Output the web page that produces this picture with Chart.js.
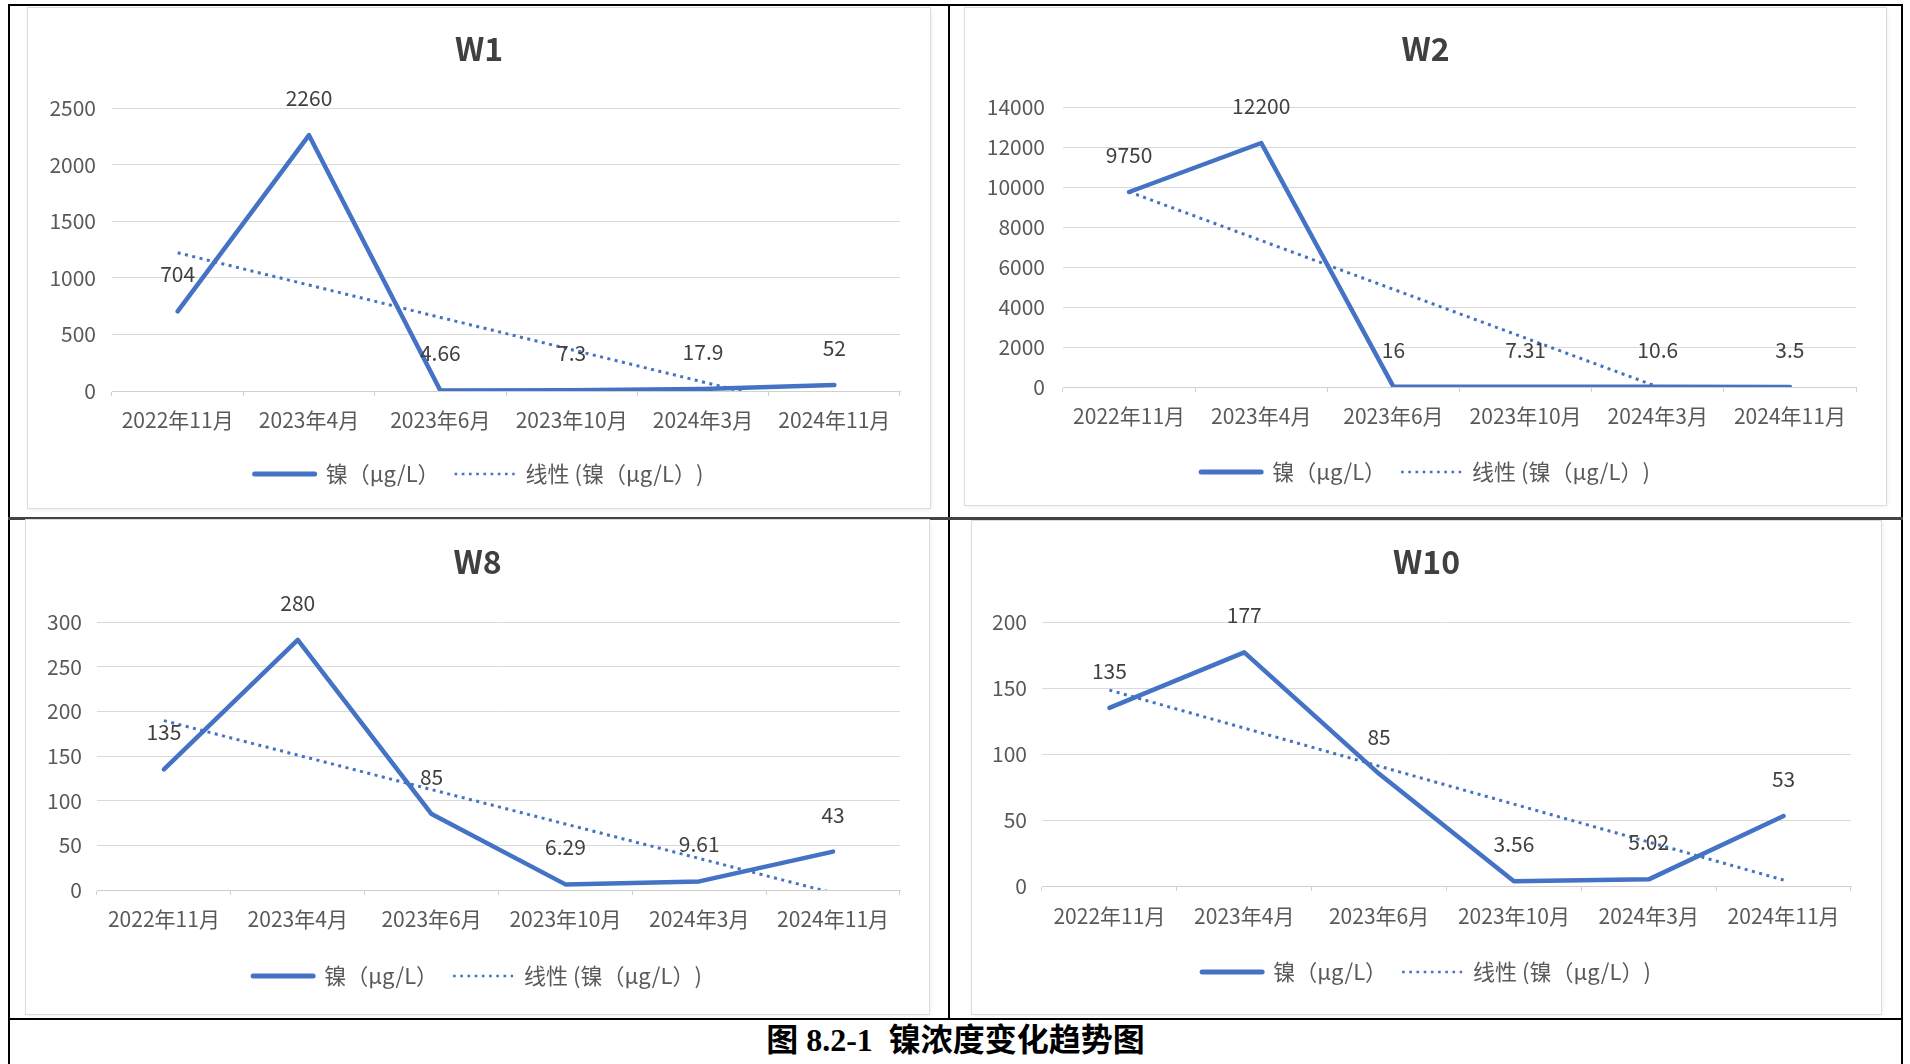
<!DOCTYPE html>
<html><head><meta charset="utf-8">
<script src="https://cdn.jsdelivr.net/npm/chart.js@4.4.1/dist/chart.umd.min.js"></script>
<style>
html,body{margin:0;padding:0;background:#fff;width:1910px;height:1064px;overflow:hidden;position:relative;}
.ln{position:absolute;background:#000;}
.panel{position:absolute;background:#fff;box-shadow:0 0 0 1px #dcdcdc, 1px 1px 4px rgba(0,0,0,0.10);}
.panel canvas{position:absolute;left:0;top:0;}
#cap{position:absolute;left:10px;width:1891px;top:1020px;height:40px;line-height:40px;text-align:center;font-weight:bold;font-size:32px;font-family:'Liberation Serif','Noto Sans CJK SC',serif;color:#000;white-space:pre;}
</style></head><body>
<div class="ln" style="left:8px;top:4px;width:1895px;height:2px"></div>
<div class="ln" style="left:8px;top:4px;width:2px;height:1060px"></div>
<div class="ln" style="left:1901px;top:4px;width:2px;height:1060px"></div>
<div class="ln" style="left:948px;top:4px;width:2px;height:1015px"></div>
<div class="ln" style="left:8px;top:517px;width:1895px;height:3px;background:#444"></div>
<div class="ln" style="left:8px;top:1018px;width:1895px;height:2px"></div>

<div class="panel" id="p0"><canvas id="c0"></canvas></div>
<div class="panel" id="p1"><canvas id="c1"></canvas></div>
<div class="panel" id="p2"><canvas id="c2"></canvas></div>
<div class="panel" id="p3"><canvas id="c3"></canvas></div>
<div id="cap">图 8.2-1  镍浓度变化趋势图</div>

<script>
// ---- data ----
const categories = ['2022年11月','2023年4月','2023年6月','2023年10月','2024年3月','2024年11月'];
const titles = ['W1','W2','W8','W10'];
const seriesLabel = '镍（μg/L）';
const trendLabel = '线性 (镍（μg/L）)';
const w1Values = [704, 2260, 4.66, 7.3, 17.9, 52];
const w2Values = [9750, 12200, 16, 7.31, 10.6, 3.5];
const w8Values = [135, 280, 85, 6.29, 9.61, 43];
const w10Values = [135, 177, 85, 3.56, 5.02, 53];
// linear trendline values (Excel "线性" trendline) at each category
const w1Trend = [1221, 936, 650, 365, 80, -205];
const w2Trend = [9758, 7321, 4883, 2446, 9, -2429];
const w8Trend = [189.6, 151.0, 112.4, 73.9, 35.3, -3.3];
const w10Trend = [148.4, 119.6, 90.8, 62.0, 33.3, 4.5];
const yMax = [2500, 14000, 300, 200];
const yStep = [500, 2000, 50, 50];

const seriesValues = [w1Values, w2Values, w8Values, w10Values];
const trendValues = [w1Trend, w2Trend, w8Trend, w10Trend];

// ---- layout (page pixels) ----
const layouts = [
  {px:28,  py:8,   pw:902, ph:500, L:112,  R:900,  T:108, B:391, ty:49,  xy:420, ly:474, yGap:16},
  {px:965, py:8,   pw:921, ph:497, L:1063, R:1856, T:107, B:387, ty:49,  xy:416, ly:472, yGap:18},
  {px:26,  py:520, pw:903, ph:494, L:97,   R:900,  T:622, B:890, ty:562, xy:919, ly:976, yGap:15},
  {px:972, py:521, pw:909, ph:493, L:1042, R:1851, T:622, B:886, ty:562, xy:916, ly:972, yGap:15}
];

const FONT = '"Noto Sans CJK SC", sans-serif';
Chart.defaults.font.family = FONT;
Chart.defaults.color = '#595959';
const BLUE = '#4472C4';
const TICK = 21, TITLE = 32, LEG = 22;

const valueLabels = {
  id: 'valueLabels',
  afterDatasetsDraw(chart) {
    const meta = chart.getDatasetMeta(0);
    const ds = chart.data.datasets[0];
    const ctx = chart.ctx;
    ctx.save();
    ctx.font = TICK + 'px ' + FONT;
    ctx.fillStyle = '#404040';
    ctx.textAlign = 'center';
    ctx.textBaseline = 'middle';
    meta.data.forEach((pt, i) => { ctx.fillText(String(ds.data[i]), pt.x, pt.y - 37); });
    ctx.restore();
  }
};

const legendItems = (chart) => chart.data.datasets.map((ds, k) => ({
  text: ds.label,
  fillStyle: 'rgba(0,0,0,0)',
  strokeStyle: ds.borderColor,
  lineWidth: k === 0 ? 5 : 2.6,
  lineDash: k === 0 ? [] : [2.6, 4.6],
  lineCap: k === 0 ? 'round' : 'butt',
  pointStyle: 'line',
  fontColor: '#595959',
  hidden: false,
  datasetIndex: k
}));

layouts.forEach((g, i) => {
  const panel = document.getElementById('p' + i);
  panel.style.left = g.px + 'px'; panel.style.top = g.py + 'px';
  panel.style.width = g.pw + 'px'; panel.style.height = g.ph + 'px';
  const cv = document.getElementById('c' + i);
  cv.width = g.pw; cv.height = g.ph;
  cv.style.width = g.pw + 'px'; cv.style.height = g.ph + 'px';

  const l = g.L - g.px, r = g.R - g.px, t = g.T - g.py, b = g.B - g.py;
  const ty = g.ty - g.py, xy = g.xy - g.py, ly = g.ly - g.py;
  const rightSpace = g.pw - r;
  const tLH = TITLE * 1.2;
  const titlePadTop = ty - tLH / 2;
  const titlePadBottom = t - titlePadTop - tLH;
  const legPad = 15;
  const itemH = LEG;
  const legTop = ly - legPad - itemH / 2;
  const legH = legPad + itemH + 10;
  const padBottom = g.ph - (legTop + legH);
  const xH = legTop - b;
  const xTickPad = xy - b - 5 - (TICK * 1.2) / 2;

  new Chart(cv, {
    type: 'line',
    data: {
      labels: categories,
      datasets: [
        { label: seriesLabel, data: seriesValues[i], borderColor: BLUE, backgroundColor: BLUE,
          borderWidth: 4.5, pointRadius: 0, pointHoverRadius: 0, tension: 0,
          borderCapStyle: 'round', borderJoinStyle: 'round' },
        { label: trendLabel, data: trendValues[i], borderColor: BLUE, backgroundColor: BLUE,
          borderWidth: 3, borderDash: [3, 4.5], pointRadius: 0, pointHoverRadius: 0, tension: 0,
          borderCapStyle: 'butt' }
      ]
    },
    options: {
      responsive: false, animation: false, devicePixelRatio: 1,
      events: [],
      layout: { padding: { left: 0, top: 0, right: 0, bottom: Math.max(0, padBottom) } },
      plugins: {
        title: { display: true, text: titles[i], color: '#404040',
          font: { size: TITLE, weight: 'bold', family: FONT, lineHeight: 1.2 },
          padding: { top: titlePadTop, bottom: titlePadBottom } },
        legend: { display: true, position: 'bottom',
          labels: { usePointStyle: true, pointStyle: 'line', pointStyleWidth: 60, padding: legPad,
            color: '#595959', font: { size: LEG, family: FONT }, generateLabels: legendItems } },
        tooltip: { enabled: false }
      },
      scales: {
        x: { type: 'category', offset: true,
          grid: { offset: true, drawOnChartArea: false, drawTicks: true, tickLength: 5, color: '#d0d0d0' },
          border: { display: true, color: '#d0d0d0', width: 1 },
          ticks: { maxRotation: 0, minRotation: 0, autoSkip: false, padding: xTickPad,
            color: '#595959', font: { size: TICK, family: FONT } },
          afterFit: (s) => { s.height = xH; } },
        y: { min: 0, max: yMax[i],
          grid: { drawTicks: false, color: '#d9d9d9', lineWidth: 1 },
          border: { display: false },
          ticks: { stepSize: yStep[i], padding: g.yGap, color: '#595959',
            font: { size: TICK, family: FONT }, callback: (v) => String(v) },
          afterFit: (s) => { s.width = l; } },
        spacer: { type: 'linear', position: 'right', display: true,
          grid: { display: false, drawTicks: false }, border: { display: false },
          ticks: { display: false },
          afterFit: (s) => { s.width = rightSpace; } }
      }
    },
    plugins: [valueLabels]
  });
});
</script>
</body></html>
